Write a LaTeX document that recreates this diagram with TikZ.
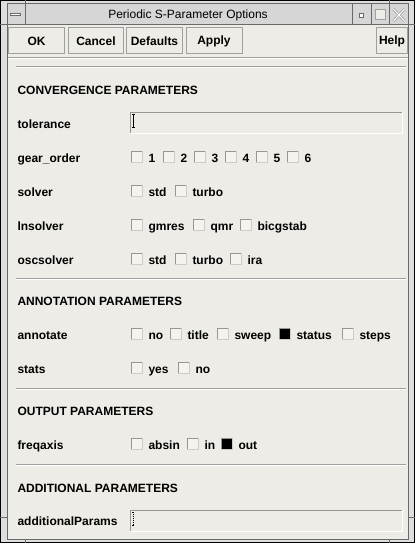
\documentclass[tikz,border=0pt]{standalone}
\usepackage{fontspec}
\setmainfont{Liberation Sans}
\definecolor{bodyc}{RGB}{237,236,230}
\definecolor{framec}{RGB}{222,222,222}
\definecolor{titlec}{RGB}{214,214,214}
\definecolor{linec}{RGB}{105,105,105}
\definecolor{sepc}{RGB}{160,160,160}
\definecolor{shc}{RGB}{150,150,150}
\definecolor{boxc}{RGB}{244,243,238}
\definecolor{boxlt}{RGB}{205,205,200}
\tikzset{
  lbl/.style={anchor=base west, inner sep=0pt, font=\bfseries\fontsize{12}{14}\selectfont},
  ttl/.style={anchor=base, inner sep=0pt, font=\fontsize{12}{14}\selectfont},
  btn/.style={draw=sepc, fill=bodyc, anchor=north west, inner sep=0pt, font=\bfseries\fontsize{12}{14}\selectfont},
  chkbox/.style={fill=boxc, anchor=south west, minimum size=11pt, inner sep=0pt, outer sep=0pt},
  chkon/.style={fill=black, anchor=south west, minimum size=11pt, inner sep=0pt, outer sep=0pt},
  entrybox/.style={fill=bodyc, anchor=north west, minimum width=273pt, minimum height=22pt, inner sep=0pt, outer sep=0pt},
  shadowline/.style={draw=shc, line width=1pt},
  lightline/.style={draw=white, line width=1pt},
  boxline/.style={draw=boxlt, line width=1pt},
  framel/.style={draw=linec, line width=1pt},
  sepline/.style={draw=sepc, line width=1pt},
}
% checkbox: name, x, baseline, label, style
\newcommand\ckitem[5]{%
  \node[#5] (#1) at (#2,#3) {};
  \draw[shadowline] (#1.south west) -- (#1.north west) -- (#1.north east);
  \draw[boxline] (#1.north east) -- (#1.south east) -- (#1.south west);
  \node[lbl] (#1t) at (#2+17,#3) {#4};
}
\begin{document}
\begin{tikzpicture}[x=1pt,y=-1pt,line width=1pt]
\useasboundingbox (0,0) rectangle (415,543);
% window frame
\fill[framec] (0,0) rectangle (415,543);
\draw[black] (0.5,0.5) rectangle (414.5,542.5);
\fill[titlec] (8,4) rectangle (408,24);
\fill[bodyc] (8,25) rectangle (408,539);
\draw[framel] (7.5,3.5) rectangle (408.5,539.5);
\draw[framel] (0,24.5) -- (415,24.5);
\draw[framel] (25.5,0) -- (25.5,24);
\draw[framel] (389.5,0) -- (389.5,24);
\draw[framel] (352.5,4) -- (352.5,24);
\draw[framel] (371.5,4) -- (371.5,24);
\draw[framel] (25.5,539) -- (25.5,543);
\draw[framel] (389.5,539) -- (389.5,543);
\draw[framel] (0,517.5) -- (8,517.5);
\draw[framel] (408,517.5) -- (415,517.5);
% title bar controls
\node[draw=linec, fill=white, minimum width=10pt, minimum height=2pt, inner sep=0pt, line width=0.8pt] (minbtn) at (15.5,14) {};
\node[ttl] (title) at (188,18.5) {Periodic S-Parameter Options};
\node[draw=linec, fill=white, minimum size=4pt, inner sep=0pt, line width=0.8pt] (iconbtn) at (361.5,15) {};
\node[draw=sepc, fill=bodyc, minimum size=10pt, inner sep=0pt, line width=1pt] (maxbtn) at (380,15) {};
\coordinate (xa) at (393.5,9);
\coordinate (xb) at (404.5,21);
\coordinate (xc) at (404.5,9);
\coordinate (xd) at (393.5,21);
\draw[sepc, line width=2.6pt] (xa) -- (xb) (xc) -- (xd);
\draw[white, line width=1pt] (xa) -- (xb) (xc) -- (xd);
% button row
\node[btn, minimum width=56pt, minimum height=26pt] (ok) at (8,27.5) {OK};
\node[btn, minimum width=55pt, minimum height=26pt] (cancel) at (68,27.5) {Cancel};
\node[btn, minimum width=56pt, minimum height=26pt] (defaults) at (126,27.5) {Defaults};
\node[btn, minimum width=56pt, minimum height=26pt] (apply) at (185.5,27.5) {Apply};
\node[btn, minimum width=31pt, minimum height=26pt] (help) at (376,27.5) {Help};
% scroll panel top
\draw[sepline] (8,57.5) -- (408,57.5);
\draw[lightline] (8,58.5) -- (408,58.5);
% separators
\foreach \yy in {66,278,388,464}{
  \draw[sepline] (16,\yy+0.5) -- (406,\yy+0.5);
  \draw[lightline] (16,\yy+1.5) -- (406,\yy+1.5);
}
% CONVERGENCE
\node[lbl] (hconv) at (17,94) {CONVERGENCE PARAMETERS};
\node[lbl] (ltol) at (17,128) {tolerance};
\node[entrybox] (tolin) at (130,112) {};
\draw[shadowline] ([xshift=.5pt]tolin.south west) -- ([xshift=.5pt,yshift=-.5pt]tolin.north west) -- ([yshift=-.5pt]tolin.north east);
\draw[lightline] ([xshift=-.5pt]tolin.north east) -- ([xshift=-.5pt,yshift=.5pt]tolin.south east) -- ([yshift=.5pt]tolin.south west);
\draw[black, line width=0.8pt] (133,114) -- (133,127) (131.5,114) -- (134.5,114) (131.5,127) -- (134.5,127);
\node[lbl] (lgear) at (17,162) {gear\_order};
\ckitem{g1}{131}{162}{1}{chkbox}
\ckitem{g2}{163}{162}{2}{chkbox}
\ckitem{g3}{194}{162}{3}{chkbox}
\ckitem{g4}{225}{162}{4}{chkbox}
\ckitem{g5}{256}{162}{5}{chkbox}
\ckitem{g6}{287}{162}{6}{chkbox}
\node[lbl] (lsolver) at (17,196) {solver};
\ckitem{s1}{131}{196}{std}{chkbox}
\ckitem{s2}{175}{196}{turbo}{chkbox}
\node[lbl] (llin) at (17,230) {lnsolver};
\ckitem{n1}{131}{230}{gmres}{chkbox}
\ckitem{n2}{193}{230}{qmr}{chkbox}
\ckitem{n3}{240}{230}{bicgstab}{chkbox}
\node[lbl] (losc) at (17,264) {oscsolver};
\ckitem{o1}{131}{264}{std}{chkbox}
\ckitem{o2}{175}{264}{turbo}{chkbox}
\ckitem{o3}{230}{264}{ira}{chkbox}
% ANNOTATION
\node[lbl] (hann) at (17,305) {ANNOTATION PARAMETERS};
\node[lbl] (lann) at (17,339) {annotate};
\ckitem{a1}{131}{339}{no}{chkbox}
\ckitem{a2}{170}{339}{title}{chkbox}
\ckitem{a3}{217}{339}{sweep}{chkbox}
\ckitem{a4}{279}{339}{status}{chkon}
\ckitem{a5}{342}{339}{steps}{chkbox}
\node[lbl] (lstats) at (17,373) {stats};
\ckitem{t1}{131}{373}{yes}{chkbox}
\ckitem{t2}{178}{373}{no}{chkbox}
% OUTPUT
\node[lbl] (hout) at (17,415) {OUTPUT PARAMETERS};
\node[lbl] (lfreq) at (17,449) {freqaxis};
\ckitem{f1}{131}{449}{absin}{chkbox}
\ckitem{f2}{187}{449}{in}{chkbox}
\ckitem{f3}{221}{449}{out}{chkon}
% ADDITIONAL
\node[lbl] (hadd) at (17,492) {ADDITIONAL PARAMETERS};
\node[lbl] (ladd) at (17,525) {additionalParams};
\node[entrybox] (addin) at (130,510) {};
\draw[shadowline] ([xshift=.5pt]addin.south west) -- ([xshift=.5pt,yshift=-.5pt]addin.north west) -- ([yshift=-.5pt]addin.north east);
\draw[lightline] ([xshift=-.5pt]addin.north east) -- ([xshift=-.5pt,yshift=.5pt]addin.south east) -- ([yshift=.5pt]addin.south west);
\draw[black, line width=0.8pt, dash pattern=on 1pt off 1pt] (133,512) -- (133,525);
\draw[black, line width=0.8pt] (132,512) -- (134,512) (132,525) -- (134,525);
\end{tikzpicture}
\end{document}
